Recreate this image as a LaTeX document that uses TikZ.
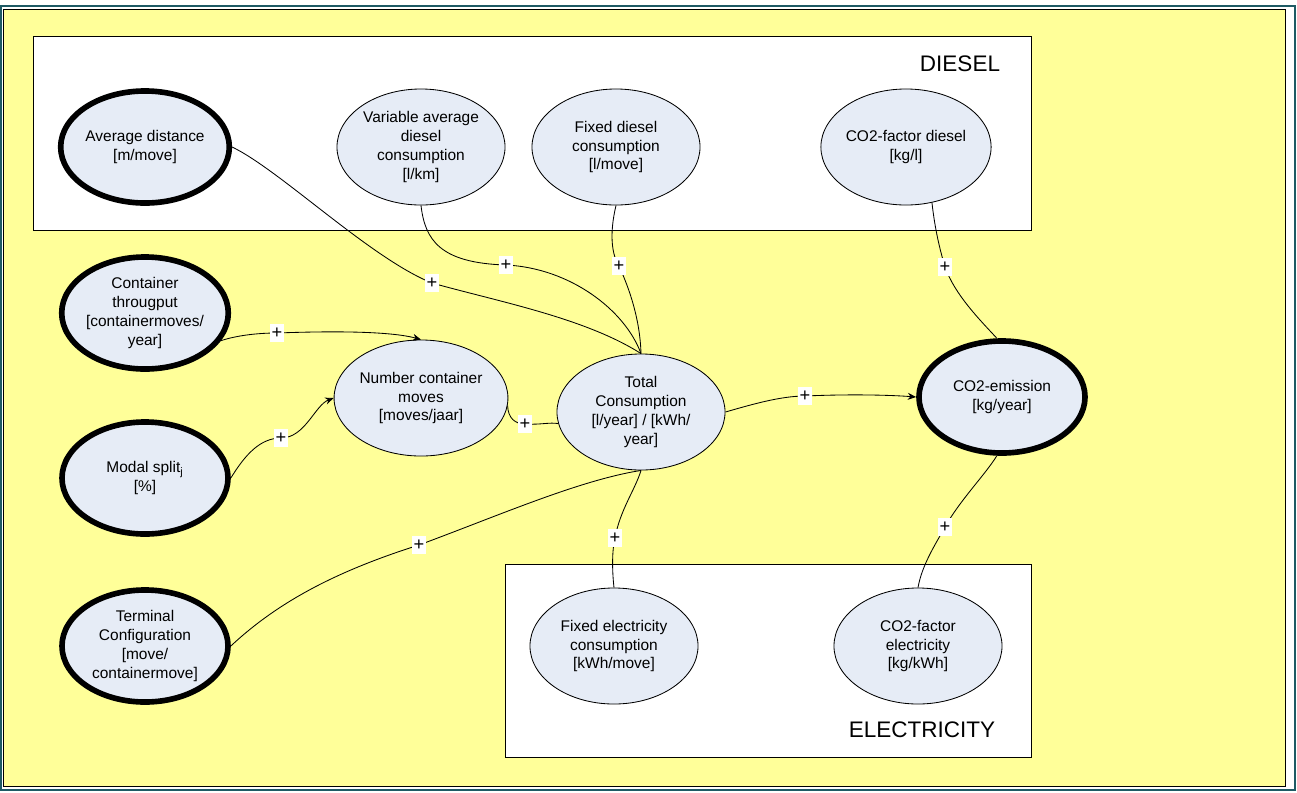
\documentclass[tikz,border=0pt]{standalone}
\usepackage{fontspec}
\setmainfont{Liberation Sans}
\usetikzlibrary{shapes.geometric,arrows.meta}

\definecolor{nodefill}{RGB}{230,236,246}
\definecolor{bgyellow}{RGB}{255,255,153}
\definecolor{frameteal}{RGB}{30,90,100}

\begin{document}
\begin{tikzpicture}[x=0.025cm,y=-0.025cm,>={Stealth[length=6pt,width=5pt]},
    every node/.style={font=\fontsize{11}{13.5}\selectfont},
    factor/.style={ellipse,draw,line width=0.6pt,fill=nodefill,align=center,
        inner sep=0pt,minimum width=4.2cm,minimum height=2.9cm},
    driver/.style={factor,line width=4pt,minimum width=4.15cm,minimum height=2.8cm},
    infl/.style={line width=0.6pt},
    plus/.style={fill=white,inner xsep=1.5pt,inner ysep=2.5pt,font=\fontsize{13}{13}\selectfont}]
    \useasboundingbox (0,0) rectangle (1297,792);

    % Frame and yellow background
    \fill[white] (0,0) rectangle (1297,792);
    \draw[frameteal,line width=1.4pt] (1,6) rectangle (1295,790);
    \filldraw[fill=bgyellow,draw=black,line width=0.7pt] (3,9) rectangle (1285,786);

    % Diesel and electricity boxes
    \filldraw[fill=white,draw=black,line width=0.7pt] (33,36) rectangle (1031,230);
    \node (diesel) at (960,64) {\fontsize{16}{16}\selectfont DIESEL};
    \filldraw[fill=white,draw=black,line width=0.7pt] (505,564) rectangle (1031,757);
    \node (elec) at (922,730) {\fontsize{16}{16}\selectfont ELECTRICITY};

    % Diesel factors
    \node[driver] (avgdist) at (145,147) {Average distance\\{[m/move]}};
    \node[factor] (vardiesel) at (421,147) {Variable average\\diesel\\consumption\\{[l/km]}};
    \node[factor] (fixdiesel) at (616,147) {Fixed diesel\\consumption\\{[l/move]}};
    \node[factor] (co2fdiesel) at (906,147) {CO2-factor diesel\\{[kg/l]}};

    % Inputs on the left
    \node[driver] (throughput) at (145,313) {Container\\througput\\{[containermoves/}\\year]};
    \node[driver] (modal) at (145,478) {Modal split\textsubscript{j}\\{[\%]}};
    \node[driver] (terminal) at (145,646) {Terminal\\Configuration\\{[move/}\\containermove]};

    % Middle row
    \node[factor] (moves) at (421,398) {Number container\\moves\\{[moves/jaar]}};
    \node[factor] (total) at (641,412) {Total\\Consumption\\{[l/year] / [kWh/}\\year]};
    \node[driver] (co2em) at (1002,397) {CO2-emission\\{[kg/year]}};

    % Electricity factors
    \node[factor] (fixelec) at (614,646) {Fixed electricity\\consumption\\{[kWh/move]}};
    \node[factor] (co2felec) at (918,646) {CO2-factor\\electricity\\{[kg/kWh]}};

    % Influences into total consumption
    \draw[infl] (avgdist.east) .. controls (280,170) and (370,258) .. (432,283) node[plus] {+}
        .. controls (500,302) and (585,318) .. (total.north);
    \draw[infl] (vardiesel.south) .. controls (425,240) and (440,263) .. (506,265) node[plus] {+}
        .. controls (570,268) and (625,310) .. (total.north);
    \draw[infl] (fixdiesel.south) .. controls (609,235) and (612,255) .. (619,266) node[plus] {+}
        .. controls (630,290) and (640,320) .. (total.north);
    \draw[infl] (moves.-5) .. controls (508,418) and (515,424) .. (525,424) node[plus] {+}
        .. controls (540,425) and (550,422) .. (total.188);
    \draw[infl] (terminal.east) .. controls (280,600) and (340,570) .. (419,545) node[plus] {+}
        .. controls (500,515) and (580,480) .. (total.south);
    \draw[infl] (fixelec.north) .. controls (612,570) and (612,550) .. (615,538) node[plus] {+}
        .. controls (620,510) and (635,490) .. (total.south);

    % Influences into number of moves
    \draw[infl,->] (throughput.-20) .. controls (235,336) and (255,333) .. (277,333) node[plus] {+}
        .. controls (330,331) and (390,331) .. (moves.north);
    \draw[infl,->] (modal.east) .. controls (245,455) and (260,438) .. (281,438) node[plus] {+}
        .. controls (305,438) and (315,405) .. (moves.west);

    % Influences into emission
    \draw[infl,->] (total.east) .. controls (750,405) and (780,396) .. (805,396) node[plus] {+}
        .. controls (850,394) and (890,395) .. (co2em.west);
    \draw[infl] (co2fdiesel.-65) .. controls (935,230) and (940,250) .. (945,267) node[plus] {+}
        .. controls (955,295) and (980,320) .. (co2em.95);
    \draw[infl] (co2felec.north) .. controls (922,565) and (935,545) .. (945,527) node[plus] {+}
        .. controls (960,500) and (985,475) .. (co2em.-95);
\end{tikzpicture}
\end{document}
